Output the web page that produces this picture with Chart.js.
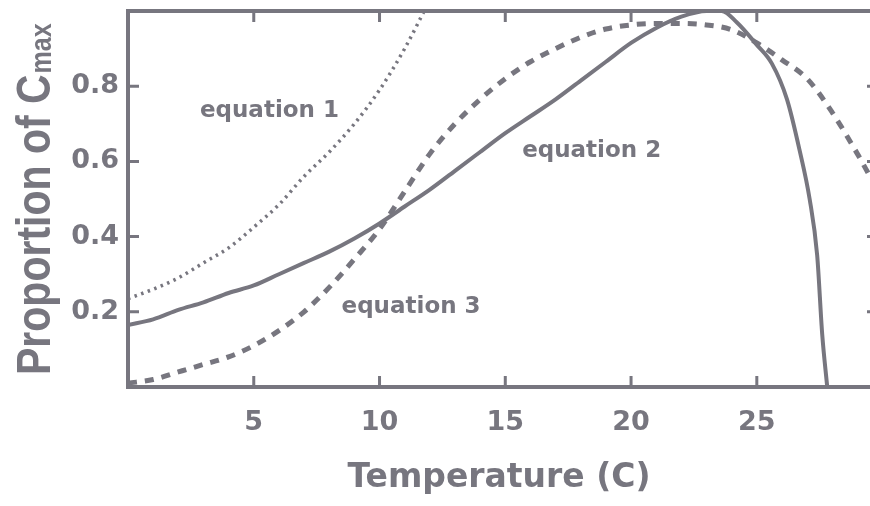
<!DOCTYPE html>
<html>
<head>
<meta charset="utf-8">
<script src="https://cdn.jsdelivr.net/npm/chart.js@4/dist/chart.umd.min.js"></script>
<style>
  html, body { margin: 0; padding: 0; background: #fff; }
  #wrap { width: 870px; height: 506px; }
</style>
</head>
<body>
<div id="wrap"><canvas id="chart"></canvas></div>
<script>
// ── Data ──────────────────────────────────────────────────────
const xTicks = [5, 10, 15, 20, 25];
const yTicks = [0.2, 0.4, 0.6, 0.8];

// equation 1 (dotted)
const eq1Temp = [0, 1, 2, 3, 4, 5, 6, 7, 8, 9, 10, 11, 12];
const eq1Prop = [0.235, 0.26, 0.29, 0.33, 0.37, 0.425, 0.485, 0.56, 0.625, 0.70, 0.79, 0.90, 1.03];

// equation 2 (solid)
const eq2Temp = [0, 1, 2, 3, 4, 5, 6, 7, 8, 9, 10, 11, 12, 13, 14, 15, 16, 17, 18, 19, 20, 21, 22, 23,
                 23.6, 24.2, 25, 25.6, 26.2, 26.7, 27.1, 27.4, 27.6, 27.8];
const eq2Prop = [0.165, 0.18, 0.205, 0.225, 0.25, 0.27, 0.30, 0.33, 0.36, 0.395, 0.435, 0.48, 0.525, 0.575,
                 0.625, 0.675, 0.72, 0.765, 0.815, 0.865, 0.915, 0.955, 0.985, 1.0,
                 1.0, 0.97, 0.91, 0.86, 0.765, 0.63, 0.5, 0.35, 0.14, 0.0];

// equation 3 (dashed)
const eq3Temp = [0, 1, 2, 3, 4, 5, 6, 7, 8, 9, 10, 11, 12, 13, 14, 15, 16, 17, 18, 19, 20, 21, 22, 23,
                 24, 25, 26, 27, 28, 29, 29.5];
const eq3Prop = [0.01, 0.02, 0.04, 0.06, 0.08, 0.11, 0.15, 0.20, 0.265, 0.34, 0.42, 0.52, 0.62, 0.70,
                 0.765, 0.82, 0.865, 0.90, 0.93, 0.952, 0.963, 0.967, 0.967, 0.963,
                 0.95, 0.915, 0.87, 0.82, 0.73, 0.62, 0.56];

// in-plot labels (data coordinates of the text's left baseline)
const labelText = ["equation 1", "equation 2", "equation 3"];
const labelTemp = [2.86, 15.67, 8.49];
const labelProp = [0.718, 0.612, 0.197];

const INK = "#77767f";

const toPoints = (xs, ys) => xs.map((x, i) => ({ x, y: ys[i] }));

// ── Plugins: box frame with inward ticks, labels, y title ─────
const framePlugin = {
  id: "frame",
  afterDatasetsDraw(chart) {
    const { ctx, chartArea: a, scales: { x, y } } = chart;
    ctx.save();
    ctx.strokeStyle = INK;
    ctx.lineWidth = 4;
    ctx.beginPath();
    ctx.moveTo(a.left, a.bottom);
    ctx.lineTo(a.left, a.top);
    ctx.lineTo(a.right, a.top);
    ctx.moveTo(a.left - 2, a.bottom);
    ctx.lineTo(a.right, a.bottom);
    ctx.stroke();

    ctx.lineWidth = 3;
    ctx.beginPath();
    for (const v of xTicks) {
      const px = x.getPixelForValue(v);
      ctx.moveTo(px, a.bottom);
      ctx.lineTo(px, a.bottom - 11);
      ctx.moveTo(px, a.top);
      ctx.lineTo(px, a.top + 11);
    }
    for (const v of yTicks) {
      const py = y.getPixelForValue(v);
      ctx.moveTo(a.left, py);
      ctx.lineTo(a.left + 11, py);
      ctx.moveTo(a.right, py);
      ctx.lineTo(a.right - 3, py);
    }
    ctx.stroke();
    ctx.restore();
  },
  afterDraw(chart) {
    const { ctx, scales: { x, y } } = chart;
    ctx.save();
    ctx.fillStyle = INK;

    // curve labels
    ctx.font = 'bold 23px "DejaVu Sans"';
    ctx.textAlign = "left";
    ctx.textBaseline = "alphabetic";
    labelText.forEach((t, i) => {
      ctx.fillText(t, x.getPixelForValue(labelTemp[i]), y.getPixelForValue(labelProp[i]));
    });

    // y title with subscript, rotated
    ctx.translate(50, 375);
    ctx.rotate(-Math.PI / 2);
    ctx.scale(1, 1.15);
    ctx.font = 'bold 41px "Liberation Sans"';
    const main = "Proportion of C";
    ctx.fillText(main, 0, 0);
    const w = ctx.measureText(main).width;
    ctx.font = 'bold 25px "Liberation Sans"';
    ctx.fillText("max", w + 1, 1);
    ctx.restore();
  },
};

// ── Chart ─────────────────────────────────────────────────────
const lineBase = {
  borderColor: INK,
  pointRadius: 0,
  fill: false,
  cubicInterpolationMode: "monotone",
};

new Chart(document.getElementById("chart"), {
  type: "line",
  data: {
    datasets: [
      { ...lineBase, label: "equation 1", data: toPoints(eq1Temp, eq1Prop), borderWidth: 3.5, borderDash: [2.5, 4.5] },
      { ...lineBase, label: "equation 2", data: toPoints(eq2Temp, eq2Prop), borderWidth: 4 },
      { ...lineBase, label: "equation 3", data: toPoints(eq3Temp, eq3Prop), borderWidth: 5, borderDash: [9, 8] },
    ],
  },
  options: {
    responsive: true,
    maintainAspectRatio: false,
    animation: false,
    layout: { padding: { top: 11, right: 0, bottom: 0, left: 0 } },
    plugins: { legend: { display: false }, tooltip: { enabled: false } },
    scales: {
      x: {
        type: "linear",
        min: 0,
        max: 29.5,
        afterBuildTicks: (s) => { s.ticks = xTicks.map((v) => ({ value: v })); },
        afterFit: (s) => { s.height = 119; s.paddingLeft = 0; s.paddingRight = 0; },
        grid: { display: false },
        border: { display: false },
        ticks: { color: INK, padding: 12, font: { family: "DejaVu Sans", size: 27, weight: "bold" } },
        title: {
          display: true,
          text: "Temperature (C)",
          color: INK,
          padding: { top: 0, bottom: 8 },
          font: { family: "DejaVu Sans", size: 33, weight: "bold" },
        },
      },
      y: {
        min: 0,
        max: 1,
        afterBuildTicks: (s) => { s.ticks = yTicks.map((v) => ({ value: v })); },
        afterFit: (s) => { s.width = 128; s.paddingTop = 0; s.paddingBottom = 0; },
        grid: { display: false },
        border: { display: false },
        ticks: {
          color: INK,
          padding: 1,
          font: { family: "DejaVu Sans", size: 27, weight: "bold" },
          callback: (v) => v.toFixed(1),
        },
      },
    },
  },
  plugins: [framePlugin],
});
</script>
</body>
</html>
